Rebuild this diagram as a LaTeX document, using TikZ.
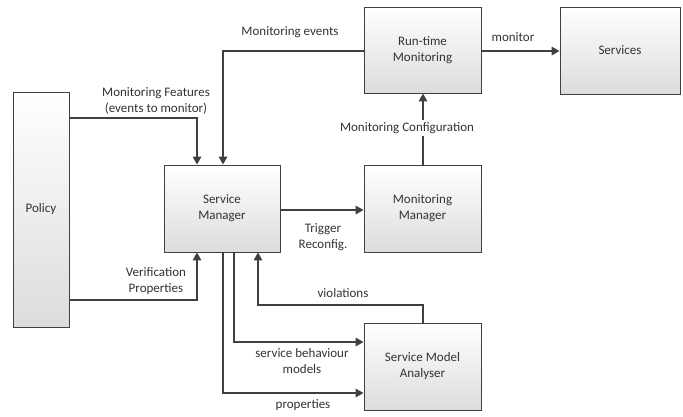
\documentclass[tikz,border=0pt]{standalone}
\usepackage{fontspec}
\setmainfont{Carlito}
\usetikzlibrary{arrows.meta,shadows}
\definecolor{linegray}{HTML}{404040}
\definecolor{boxbottom}{HTML}{DCDCDC}
\begin{document}
\begin{tikzpicture}[x=1pt,y=-1pt,
  block/.style={draw=linegray, line width=0.9pt, top color=white, bottom color=boxbottom,
    drop shadow={shadow xshift=1.2pt, shadow yshift=-1.2pt, opacity=0.35},
    align=center, inner sep=0pt, text=black!80},
  flow/.style={draw=linegray, line width=1.7pt, -{Triangle[length=8pt,width=8.5pt]}},
  lbl/.style={align=center, text=black!80, inner sep=0pt},
  font=\fontsize{13}{16}\selectfont]
\useasboundingbox (0,0) rectangle (683,416);

% boxes
\node[block, minimum width=56, minimum height=235] (pol) at (41,209.5) {Policy};
\node[block, minimum width=116, minimum height=87] (sm) at (222,208.5) {Service\\Manager};
\node[block, minimum width=117, minimum height=86] (rtm) at (422.5,50) {Run-time\\Monitoring};
\node[block, minimum width=120, minimum height=87] (srv) at (620,50.5) {Services};
\node[block, minimum width=117, minimum height=87] (mm) at (422.5,208.5) {Monitoring\\Manager};
\node[block, minimum width=117, minimum height=87] (sma) at (422.5,366.5) {Service Model\\Analyser};

% bend points
\coordinate (pf) at (197,118);
\coordinate (me) at (223,51);
\coordinate (vp) at (197,300);
\coordinate (vi1) at (423,305);
\coordinate (vi2) at (258,305);
\coordinate (sb) at (234,342);
\coordinate (pr) at (223,393);

% connectors
\draw[flow] (pol.east |- pf) -- (pf) -- (pf |- sm.north);
\draw[flow] (rtm.west |- me) -- (me) -- (me |- sm.north);
\draw[flow] (pol.east |- vp) -- (vp) -- (vp |- sm.south);
\draw[flow] (rtm.east |- me) -- (srv.west |- me);
\draw[flow] (mm.north -| vi1) -- (rtm.south -| vi1);
\draw[flow] (sm.east |- 0,210) -- (mm.west |- 0,210);
\draw[flow] (sma.north -| vi1) -- (vi1) -- (vi2) -- (vi2 |- sm.south);
\draw[flow] (sm.south -| sb) -- (sb) -- (sma.west |- sb);
\draw[flow] (sm.south -| pr) -- (pr) -- (sma.west |- pr);

% labels
\node[lbl] (lmf) at (156,100.5) {Monitoring Features\\(events to monitor)};
\node[lbl] (lme) at (290,32) {Monitoring events};
\node[lbl] (lmo) at (513,37) {monitor};
\node[lbl, fill=white, inner sep=2pt] (lmc) at (407,128) {Monitoring Configuration};
\node[lbl] (ltr) at (323,237.5) {Trigger\\Reconfig.};
\node[lbl] (lvp) at (156,281) {Verification\\Properties};
\node[lbl] (lvi) at (343,293) {violations};
\node[lbl] (lsb) at (302,361) {service behaviour\\models};
\node[lbl] (lpr) at (303,405) {properties};
\end{tikzpicture}
\end{document}
